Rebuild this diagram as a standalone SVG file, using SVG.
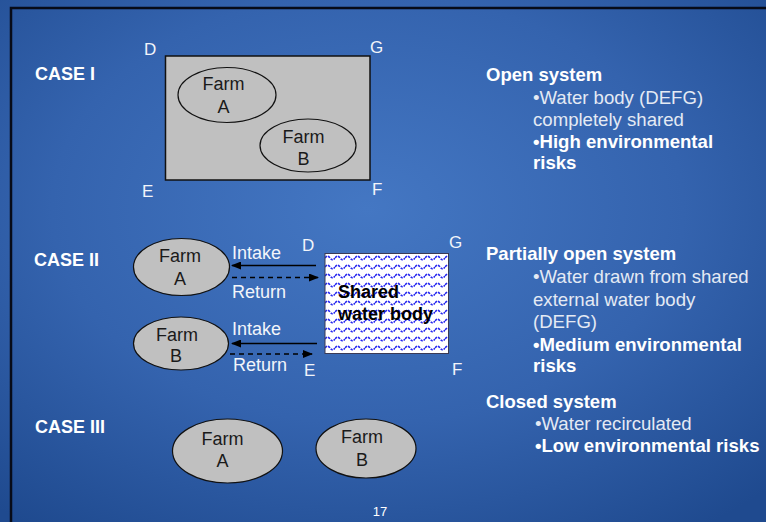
<svg xmlns="http://www.w3.org/2000/svg" width="766" height="522" viewBox="0 0 766 522">
  <style>
    text { font-family: "Liberation Sans", Arial, sans-serif; }
    .case { font-size: 18px; font-weight: bold; fill: #ffffff; }
    .corner { font-size: 17px; fill: #f2f5fa; }
    .lbl { font-size: 18px; fill: #f2f5fa; }
    .farm { fill: #c0c0c0; stroke: #111111; stroke-width: 1.2; }
    .farmtxt { font-size: 18px; fill: #1a1a1a; text-anchor: middle; }
    .head { font-size: 18.5px; font-weight: bold; fill: #ffffff; }
    .bul { font-size: 18.6px; fill: #e4eaf4; }
    .bulb { font-size: 18.6px; font-weight: bold; fill: #ffffff; }
    .solid { stroke: #000000; stroke-width: 1.5; fill: none; }
    .dash { stroke: #000000; stroke-width: 1.5; fill: none; stroke-dasharray: 5 4; }
  </style>
  <defs>
    <radialGradient id="bg" cx="0.48" cy="0.4" r="0.75">
      <stop offset="0" stop-color="#4477c3"/>
      <stop offset="0.55" stop-color="#3463ae"/>
      <stop offset="1" stop-color="#1f4a8f"/>
    </radialGradient>
    <pattern id="waves" width="10" height="9" patternUnits="userSpaceOnUse" x="325" y="253">
      <rect width="10" height="9" fill="#ffffff"/>
      <path d="M0,5 Q2.5,1.5 5,5 T10,5" fill="none" stroke="#2626f0" stroke-width="1.6" stroke-dasharray="2.5 1"/>
    </pattern>
    <marker id="ah" markerWidth="10" markerHeight="8" refX="9" refY="4" orient="auto" markerUnits="userSpaceOnUse">
      <path d="M0,0 L10,4 L0,8 Z" fill="#000000"/>
    </marker>
  </defs>

  <rect width="766" height="522" fill="url(#bg)"/>
  <path d="M11,522 L11,8 L766,8" fill="none" stroke="#070b18" stroke-width="2.5"/>

  <!-- CASE I -->
  <g id="case1-label"><text class="case" x="35" y="80">CASE I</text></g>
  <g id="case1-waterbody">
    <rect x="165.5" y="56" width="204.5" height="124" fill="#c0c0c0" stroke="#111111" stroke-width="1.5"/>
    <text class="corner" x="144" y="55">D</text>
    <text class="corner" x="370" y="53">G</text>
    <text class="corner" x="142" y="197">E</text>
    <text class="corner" x="372" y="195">F</text>
  </g>
  <g id="case1-farmA">
    <ellipse class="farm" cx="227" cy="95" rx="49" ry="27.5"/>
    <text class="farmtxt" x="223.5" y="90">Farm</text>
    <text class="farmtxt" x="223.5" y="113">A</text>
  </g>
  <g id="case1-farmB">
    <ellipse class="farm" cx="308" cy="145.5" rx="48" ry="26.5"/>
    <text class="farmtxt" x="303.5" y="143">Farm</text>
    <text class="farmtxt" x="303.5" y="165">B</text>
  </g>
  <g id="case1-desc">
    <text class="head" x="486" y="81">Open system</text>
    <text class="bul" x="533" y="104">•Water body (DEFG)</text>
    <text class="bul" x="533" y="126">completely shared</text>
    <text class="bulb" x="533" y="148">•High environmental</text>
    <text class="bulb" x="533" y="169">risks</text>
  </g>

  <!-- CASE II -->
  <g id="case2-label"><text class="case" x="34" y="266">CASE II</text></g>
  <g id="case2-farmA">
    <ellipse class="farm" cx="181.5" cy="267" rx="48" ry="28.5"/>
    <text class="farmtxt" x="180" y="262">Farm</text>
    <text class="farmtxt" x="180" y="285">A</text>
  </g>
  <g id="case2-farmB">
    <ellipse class="farm" cx="181" cy="343.5" rx="47.5" ry="26.5"/>
    <text class="farmtxt" x="177" y="341">Farm</text>
    <text class="farmtxt" x="176" y="362">B</text>
  </g>
  <g id="case2-waterbody">
    <rect x="325" y="253.5" width="123.5" height="100" fill="url(#waves)" stroke="#3a3a55" stroke-width="1"/>
    <text x="338" y="298" font-size="18" font-weight="bold" fill="#000000">Shared</text>
    <text x="338" y="320" font-size="18" font-weight="bold" fill="#000000">water body</text>
    <text class="corner" x="302" y="251">D</text>
    <text class="corner" x="449" y="248">G</text>
    <text class="corner" x="304" y="376">E</text>
    <text class="corner" x="452" y="375">F</text>
  </g>
  <g id="connectors">
    <line class="solid" x1="316" y1="265.5" x2="232" y2="265.5" marker-end="url(#ah)"/>
    <line class="dash" x1="232" y1="277.5" x2="318" y2="277.5" marker-end="url(#ah)"/>
    <line class="solid" x1="317" y1="343.5" x2="232" y2="343.5" marker-end="url(#ah)"/>
    <line class="dash" x1="230" y1="354" x2="312" y2="354" marker-end="url(#ah)"/>
    <text class="lbl" x="232" y="259">Intake</text>
    <text class="lbl" x="232" y="298">Return</text>
    <text class="lbl" x="232" y="335">Intake</text>
    <text class="lbl" x="233" y="371">Return</text>
  </g>
  <g id="case2-desc">
    <text class="head" x="486" y="260">Partially open system</text>
    <text class="bul" x="533" y="283">•Water drawn from shared</text>
    <text class="bul" x="533" y="306">external water body</text>
    <text class="bul" x="533" y="328">(DEFG)</text>
    <text class="bulb" x="533" y="351">•Medium environmental</text>
    <text class="bulb" x="533" y="372">risks</text>
  </g>

  <!-- CASE III -->
  <g id="case3-label"><text class="case" x="35" y="433">CASE III</text></g>
  <g id="case3-farmA">
    <ellipse class="farm" cx="227.5" cy="451" rx="55" ry="32"/>
    <text class="farmtxt" x="222.5" y="445">Farm</text>
    <text class="farmtxt" x="222.5" y="467">A</text>
  </g>
  <g id="case3-farmB">
    <ellipse class="farm" cx="366" cy="448.5" rx="50" ry="29.5"/>
    <text class="farmtxt" x="362" y="443">Farm</text>
    <text class="farmtxt" x="362" y="466">B</text>
  </g>
  <g id="case3-desc">
    <text class="head" x="486" y="408">Closed system</text>
    <text class="bul" x="535" y="430">•Water recirculated</text>
    <text class="bulb" x="535" y="452">•Low environmental risks</text>
  </g>

  <text x="380" y="516" font-size="13" fill="#ffffff" text-anchor="middle">17</text>
</svg>
